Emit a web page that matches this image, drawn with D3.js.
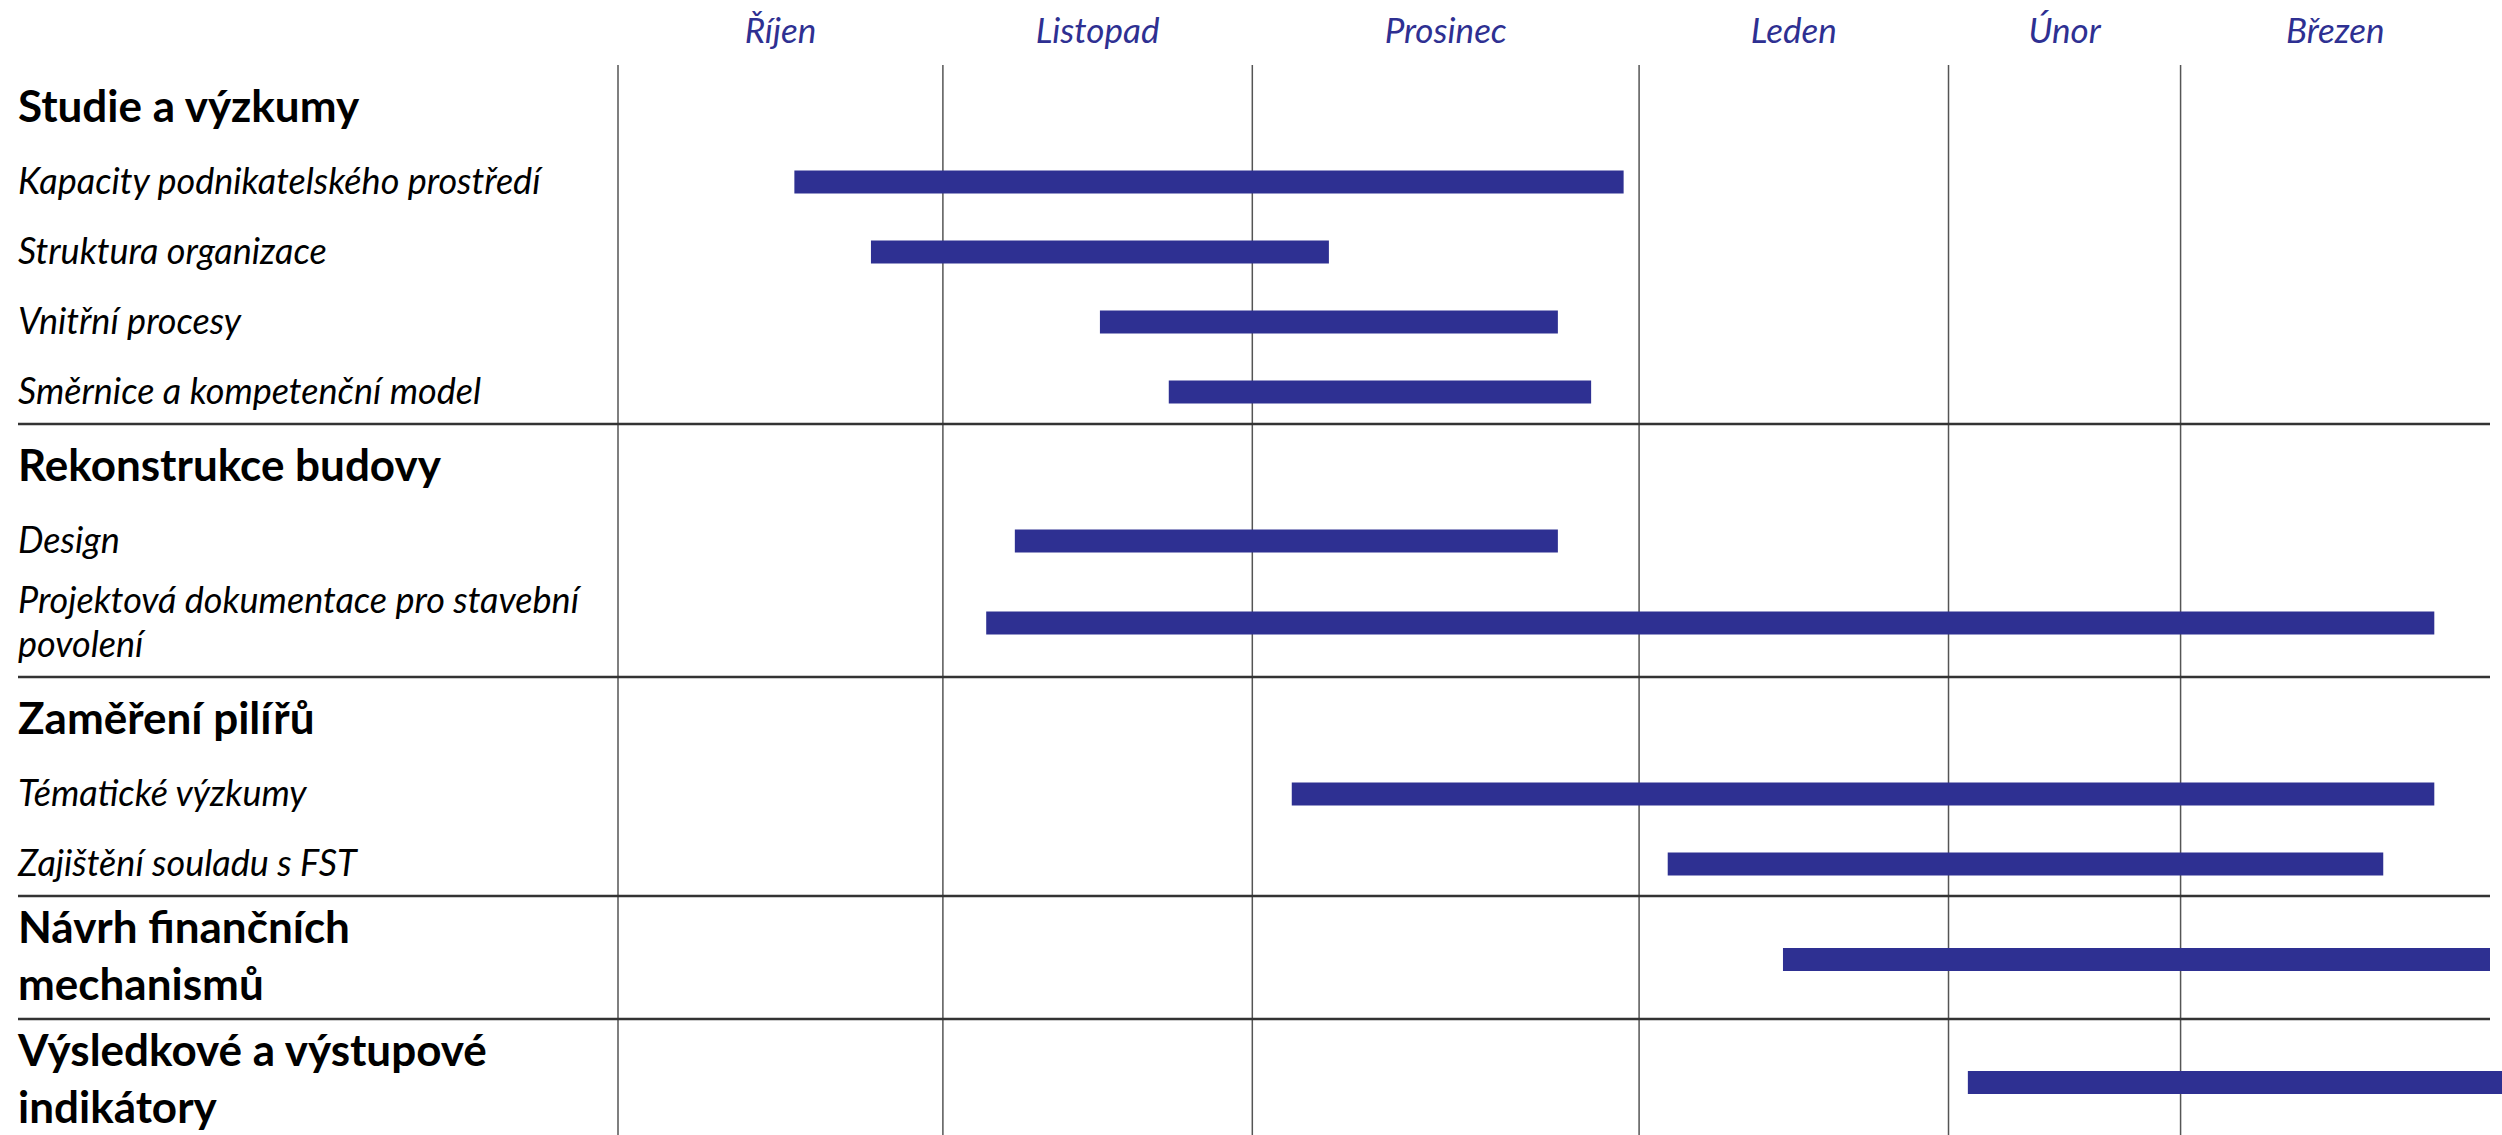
<!DOCTYPE html>
<html>
<head>
<meta charset="utf-8">
<script src="https://cdn.jsdelivr.net/npm/d3@7"></script>
<style>
  body { margin: 0; background: #fff; }
  text { font-family: Lato, "Open Sans", sans-serif; }
</style>
</head>
<body>
<div id="chart"></div>
<script>
// months on top, width of each month column in weeks
var months = ["Říjen", "Listopad", "Prosinec", "Leden", "Únor", "Březen"];
var monthWeeks = [4.2, 4, 5, 4, 3, 4];

// bold section headings ("\n" = line break)
var sections = [
    "Studie a výzkumy",
    "Rekonstrukce budovy",
    "Zaměření pilířů",
    "Návrh finančních\nmechanismů",
    "Výsledkové a výstupové\nindikátory"
];

// tasks: section, label (null = bar sits on the heading), start / end in weeks
var taskSection = [0, 0, 0, 0, 1, 1, 2, 2, 3, 4];
var taskNames = [
    "Kapacity podnikatelského prostředí",
    "Struktura organizace",
    "Vnitřní procesy",
    "Směrnice a kompetenční model",
    "Design",
    "Projektová dokumentace pro stavební\npovolení",
    "Tématické výzkumy",
    "Zajištění souladu s FST",
    null,
    null
];
var taskStart = [2.28, 3.27, 6.23, 7.12, 5.13, 4.76, 8.71, 13.57, 15.06, 17.45];
var taskEnd   = [13.0, 9.19, 12.15, 12.58, 12.15, 23.48, 23.48, 22.82, 24.2, 24.36];

var W = 2502, H = 1135;
var gridLeft = 618, gridRight = 2490, gridTop = 65, labelX = 18;
var blue = "#2E3092";

var svg = d3.select("#chart").append("svg")
    .attr("width", W)
    .attr("height", H);

svg.append("rect").attr("width", W).attr("height", H).attr("fill", "#fff");

var x = d3.scaleLinear()
    .domain([0, d3.sum(monthWeeks)])
    .range([gridLeft, gridRight]);

var edges = [0];
monthWeeks.forEach(function (w, i) { edges.push(edges[i] + w); });

// ---- vertical layout of the label column ----
var rows = [];      // {lines, bold, baselines}
var separators = [];
var bars = [];
var y = gridTop;
sections.forEach(function (s, si) {
    var subs = [];
    taskNames.forEach(function (n, ti) { if (taskSection[ti] === si && n) subs.push(ti); });
    var headLines = s.split("\n");
    y += subs.length ? 57 : 47;
    var hb = headLines.map(function (l, i) { return y + i * 57; });
    rows.push({ lines: headLines, bold: true, baselines: hb });
    y = hb[hb.length - 1];
    // heading-only section: bar goes on the heading
    taskNames.forEach(function (n, ti) {
        if (taskSection[ti] === si && !n) bars.push({ t: ti, cy: d3.mean(hb) - 12 });
    });
    subs.forEach(function (ti, k) {
        var lines = taskNames[ti].split("\n");
        y += k === 0 ? 72 : 70 - 10 * (lines.length - 1);
        var b = lines.map(function (l, i) { return y + i * 44; });
        rows.push({ lines: lines, bold: false, baselines: b });
        bars.push({ t: ti, cy: d3.mean(b) - 12 });
        y = b[b.length - 1];
    });
    y += subs.length ? 20 : 19;
    if (si < sections.length - 1) separators.push(y);
});

// vertical month lines
svg.append("g").selectAll("line")
    .data(edges.slice(0, -1))
    .join("line")
    .attr("x1", function (d) { return x(d); })
    .attr("x2", function (d) { return x(d); })
    .attr("y1", gridTop)
    .attr("y2", H)
    .attr("stroke", "#555")
    .attr("stroke-width", 1.5);

// horizontal section separators
svg.append("g").selectAll("line")
    .data(separators)
    .join("line")
    .attr("x1", labelX)
    .attr("x2", gridRight)
    .attr("y1", function (d) { return d; })
    .attr("y2", function (d) { return d; })
    .attr("stroke", "#333")
    .attr("stroke-width", 2.5);

// month labels
svg.append("g").selectAll("text")
    .data(months)
    .join("text")
    .attr("x", function (d, i) { return (x(edges[i]) + x(edges[i + 1])) / 2; })
    .attr("y", 43)
    .attr("text-anchor", "middle")
    .attr("font-style", "italic")
    .attr("font-size", 35)
    .attr("fill", blue)
    .text(function (d) { return d; });

// row labels
rows.forEach(function (r) {
    r.lines.forEach(function (l, i) {
        svg.append("text")
            .attr("x", labelX)
            .attr("y", r.baselines[i])
            .attr("font-size", r.bold ? 44 : 36)
            .attr("font-weight", r.bold ? "bold" : "normal")
            .attr("font-style", r.bold ? "normal" : "italic")
            .attr("fill", "#000")
            .text(l);
    });
});

// bars
var barH = 23;
svg.append("g").selectAll("rect")
    .data(bars)
    .join("rect")
    .attr("x", function (d) { return x(taskStart[d.t]); })
    .attr("width", function (d) { return x(taskEnd[d.t]) - x(taskStart[d.t]); })
    .attr("y", function (d) { return d.cy - barH / 2; })
    .attr("height", barH)
    .attr("fill", blue);
</script>
</body>
</html>
